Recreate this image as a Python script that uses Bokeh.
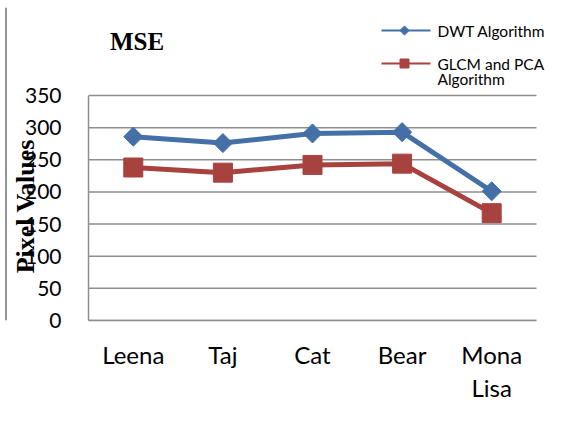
import math
from bokeh.plotting import figure
from bokeh.layouts import column, row
from bokeh.models import Range1d, FixedTicker
from bokeh.core.properties import value
from bokeh.embed import file_html
from bokeh.resources import INLINE

# ---- data ----
chart_title = "MSE"
y_axis_title = "Pixel Values"
categories = ["Leena", "Taj", "Cat", "Bear", "Mona Lisa"]
category_labels = ["Leena", "Taj", "Cat", "Bear", "Mona\nLisa"]
dwt_values = [286, 276, 291, 293, 201]
glcm_pca_values = [238, 230, 242, 244, 167]
y_ticks = [0, 50, 100, 150, 200, 250, 300, 350]
series_legend_lines = [["DWT Algorithm"], ["GLCM and PCA", "Algorithm"]]

BLUE = "#4470A7"
RED = "#A8423F"
GRID = "#8E8E8E"
FRAME = "#959595"

PAGE_W, PAGE_H = 572, 439
TOP_H = 7
STRIP_W = 7

# plot-area placement on the page (px)
PA_LEFT, PA_RIGHT, PA_TOP, PA_BOTTOM = 87, 535, 95, 320
N = len(categories)
Y_MAX = max(y_ticks)

def X(px):  # page x -> data x
    return (px - PA_LEFT) * N / (PA_RIGHT - PA_LEFT)

def Y(py):  # page y -> data y
    return (PA_BOTTOM - py) * Y_MAX / (PA_BOTTOM - PA_TOP)

# ---------------- outer frame: top strip and left strip ----------------
top = figure(width=PAGE_W, height=TOP_H, output_backend="svg", toolbar_location=None,
             x_range=Range1d(0, PAGE_W), y_range=Range1d(TOP_H, 0),
             x_axis_type=None, y_axis_type=None, min_border=0)
top.outline_line_color = None
top.grid.visible = False
top.segment(x0=[5, 5.5], y0=[4.5, 4], x1=[PAGE_W, 5.5], y1=[4.5, TOP_H],
            line_color=FRAME, line_width=2)

MAIN_H = PAGE_H - TOP_H
left = figure(width=STRIP_W, height=MAIN_H, output_backend="svg", toolbar_location=None,
              x_range=Range1d(0, STRIP_W), y_range=Range1d(MAIN_H, 0),
              x_axis_type=None, y_axis_type=None, min_border=0)
left.outline_line_color = None
left.grid.visible = False
left.segment(x0=[5.5], y0=[0], x1=[5.5], y1=[MAIN_H], line_color=FRAME, line_width=2)

# ---------------- main chart (frame extends over title/legend area) ----------------
MAIN_W = PAGE_W - STRIP_W
ML = PA_LEFT - STRIP_W
FW = MAIN_W - ML
FH = PA_BOTTOM - TOP_H
MB = MAIN_H - FH

p = figure(width=MAIN_W, height=MAIN_H, output_backend="svg", toolbar_location=None,
           x_range=Range1d(0, X(PAGE_W)), y_range=Range1d(0, Y(TOP_H)),
           min_border_left=ML, min_border_right=0, min_border_top=0, min_border_bottom=MB,
           frame_width=FW, frame_height=FH)
p.outline_line_color = None
p.background_fill_color = "white"
p.border_fill_color = "white"
p.xgrid.visible = False
p.ygrid.visible = False

xs = [i + 0.5 for i in range(N)]

p.xaxis.bounds = (0, N)
p.xaxis.ticker = FixedTicker(ticks=xs)
p.xaxis.major_label_overrides = {x: lab for x, lab in zip(xs, category_labels)}
p.xaxis.major_label_text_font = "Lato"
p.xaxis.major_label_text_font_size = "24px"
p.xaxis.major_label_text_color = "black"
p.xaxis.major_label_text_line_height = 1.15
p.xaxis.major_label_standoff = 13
p.xaxis.axis_line_color = GRID
p.xaxis.axis_line_width = 1.5
p.xaxis.major_tick_line_color = None
p.xaxis.minor_tick_line_color = None

p.yaxis.bounds = (0, Y_MAX)
p.yaxis.ticker = FixedTicker(ticks=y_ticks)
p.yaxis.major_label_text_font = "Lato"
p.yaxis.major_label_text_font_size = "21px"
p.yaxis.major_label_text_color = "black"
p.yaxis.major_label_standoff = 21
p.yaxis.axis_line_color = GRID
p.yaxis.axis_line_width = 1.5
p.yaxis.major_tick_line_color = None
p.yaxis.minor_tick_line_color = None
# trailing spaces push the visible title down to the middle of the 0-350 axis
p.yaxis.axis_label = y_axis_title + " " * 13
p.yaxis.axis_label_text_font = "Liberation Serif"
p.yaxis.axis_label_text_font_style = "bold"
p.yaxis.axis_label_text_font_size = "26px"
p.yaxis.axis_label_text_color = "black"
p.yaxis.axis_label_standoff = -18

# horizontal gridlines at the y ticks, across the category span
p.segment(x0=[0] * len(y_ticks), y0=y_ticks, x1=[N] * len(y_ticks), y1=y_ticks,
          line_color=GRID, line_width=1.5)

# series
p.line(xs, dwt_values, line_color=BLUE, line_width=5)
p.scatter(xs, dwt_values, marker="square", angle=math.pi / 4, size=13.5,
          fill_color=BLUE, line_color=BLUE)
p.line(xs, glcm_pca_values, line_color=RED, line_width=5)
p.scatter(xs, glcm_pca_values, marker="square", size=19,
          fill_color=RED, line_color=RED)

# title
p.text(x=[X(135.5)], y=[Y(41)], text=[chart_title], text_font=value("Liberation Serif"),
       text_font_style="bold", text_font_size="25px", text_align="center",
       text_baseline="middle", text_color="black")

# legend
leg_x0, leg_x1, leg_mx, leg_tx = 380, 429, 403, 436
leg_y = [30, 63]
leg_col = [BLUE, RED]
p.segment(x0=[X(leg_x0)] * 2, y0=[Y(v) for v in leg_y], x1=[X(leg_x1)] * 2,
          y1=[Y(v) for v in leg_y], line_color=leg_col, line_width=2)
p.scatter([X(leg_mx)], [Y(leg_y[0])], marker="square", angle=math.pi / 4, size=6.5,
          fill_color=BLUE, line_color=BLUE)
p.scatter([X(leg_mx)], [Y(leg_y[1])], marker="square", size=9,
          fill_color=RED, line_color=RED)
tx, ty, tt = [], [], []
for yy, lines in zip(leg_y, series_legend_lines):
    for k, ln in enumerate(lines):
        tx.append(X(leg_tx))
        ty.append(Y(yy + 15.5 * k))
        tt.append(ln)
p.text(x=tx, y=ty, text=tt, text_font=value("Lato"), text_font_size="15.5px",
       text_align="left", text_baseline="middle", text_color="black")

layout = column(top, row(left, p, spacing=0), spacing=0)
open("out.html", "w").write(file_html(layout, INLINE))
